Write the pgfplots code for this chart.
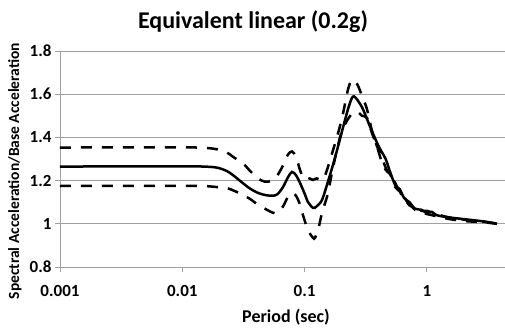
\documentclass[border=0pt]{standalone}
\usepackage{pgfplots}
\pgfplotsset{compat=1.18}
\usepackage{fontspec}
\setmainfont{Carlito}
\definecolor{gridgray}{RGB}{160,160,160}
\begin{document}
\begin{tikzpicture}[x=1pt,y=1pt]
\useasboundingbox (0,0) rectangle (505,327);
\begin{axis}[
  at={(60pt,60pt)}, anchor=south west,
  width=445pt, height=216pt, scale only axis,
  xmode=log, xmin=0.001, xmax=4.35,
  ymin=0.8, ymax=1.8,
  axis lines*=left,
  axis line style={draw=gridgray, line width=0.9pt, -},
  xtick={0.001,0.01,0.1,1}, xticklabels={0.001,0.01,0.1,1},
  ytick={0.8,1,1.2,1.4,1.6,1.8}, yticklabels={0.8,1,1.2,1.4,1.6,1.8},
  xminorticks=false,
  tick align=outside, major tick length=5pt,
  tick style={draw=gridgray, line width=0.9pt},
  ymajorgrids, grid style={draw=gridgray, line width=0.9pt},
  tick label style={font=\fontsize{17}{17}\selectfont\bfseries},
  xticklabel style={anchor=center, yshift=-19pt},
  yticklabel style={anchor=east, xshift=0pt},
  /pgf/number format/assume math mode=true,
  clip=false,
]
\addplot[black, line width=2.5pt, smooth, tension=0.5] coordinates {
(0.001,1.265) (0.005,1.266) (0.01,1.266) (0.015,1.265) (0.0192,1.26) (0.023,1.245)
(0.026,1.225) (0.031,1.19) (0.0358,1.163) (0.042,1.142) (0.049,1.132) (0.055,1.13)
(0.060,1.137) (0.0666,1.17) (0.073,1.215) (0.0789,1.24) (0.085,1.225) (0.0916,1.19)
(0.1,1.14) (0.1067,1.10) (0.1172,1.074) (0.125,1.08) (0.1387,1.11) (0.1552,1.195)
(0.170,1.27) (0.184,1.34) (0.2138,1.48) (0.235,1.56) (0.2535,1.59) (0.2944,1.54)
(0.3428,1.45) (0.3908,1.375) (0.42,1.34) (0.46,1.30) (0.50,1.24) (0.55,1.18) (0.60,1.16)
(0.65,1.12) (0.72,1.10) (0.80,1.07) (0.90,1.065) (1.0,1.05) (1.1,1.055) (1.2,1.04)
(1.5,1.03) (2.13,1.02) (3.0,1.01) (3.74,1.00)
};
\addplot[black, line width=2.5pt, smooth, tension=0.5, dash pattern=on 11pt off 10pt] coordinates {
(0.001,1.353) (0.005,1.354) (0.01,1.354) (0.015,1.352) (0.0192,1.345) (0.0232,1.33)
(0.026,1.31) (0.0313,1.28) (0.0358,1.245) (0.0416,1.21) (0.0474,1.195) (0.0541,1.2)
(0.06,1.225) (0.0666,1.27) (0.073,1.32) (0.0789,1.335) (0.085,1.31) (0.0916,1.25)
(0.097,1.215) (0.103,1.205) (0.11,1.21) (0.117,1.203) (0.125,1.21) (0.1413,1.205)
(0.1525,1.25) (0.1706,1.34) (0.19,1.43) (0.206,1.51) (0.226,1.62) (0.2443,1.667)
(0.27,1.645) (0.30,1.58) (0.3238,1.53) (0.3556,1.43) (0.39,1.36) (0.42,1.32) (0.46,1.26)
(0.50,1.22) (0.55,1.19) (0.60,1.14) (0.65,1.125) (0.72,1.085) (0.80,1.075) (0.90,1.06)
(1.0,1.06) (1.2,1.045) (1.5,1.03) (2.1,1.018) (2.8,1.01) (3.74,1.002)
};
\addplot[black, line width=2.5pt, smooth, tension=0.5, dash pattern=on 11pt off 10pt] coordinates {
(0.001,1.175) (0.005,1.176) (0.01,1.176) (0.015,1.175) (0.0192,1.17) (0.0232,1.165)
(0.026,1.155) (0.0313,1.134) (0.0358,1.115) (0.0416,1.088) (0.0474,1.07) (0.0541,1.053)
(0.0594,1.05) (0.0666,1.08) (0.073,1.125) (0.0789,1.143) (0.085,1.13) (0.0916,1.09)
(0.097,1.04) (0.1067,0.97) (0.1172,0.935) (0.1216,0.935) (0.13,0.98) (0.1387,1.05)
(0.1525,1.125) (0.16,1.18) (0.1706,1.26) (0.1946,1.40) (0.2138,1.46) (0.24,1.505)
(0.2681,1.52) (0.2944,1.50) (0.3238,1.49) (0.3556,1.42) (0.39,1.36) (0.42,1.30)
(0.46,1.25) (0.50,1.23) (0.55,1.17) (0.60,1.15) (0.65,1.11) (0.72,1.09) (0.80,1.065)
(0.90,1.055) (1.0,1.045) (1.1,1.04) (1.3,1.03) (1.6,1.02) (2.1,1.012) (2.8,1.008) (3.74,1.0)
};
\end{axis}
\node[font=\fontsize{24}{24}\selectfont\bfseries] at (253,305) {Equivalent linear (0.2g)};
\node[font=\fontsize{15.5}{15.5}\selectfont\bfseries, rotate=90] at (15,156) {Spectral Acceleration/Base Acceleration};
\node[font=\fontsize{18}{18}\selectfont\bfseries] at (286,10) {Period (sec)};
\end{tikzpicture}
\end{document}
